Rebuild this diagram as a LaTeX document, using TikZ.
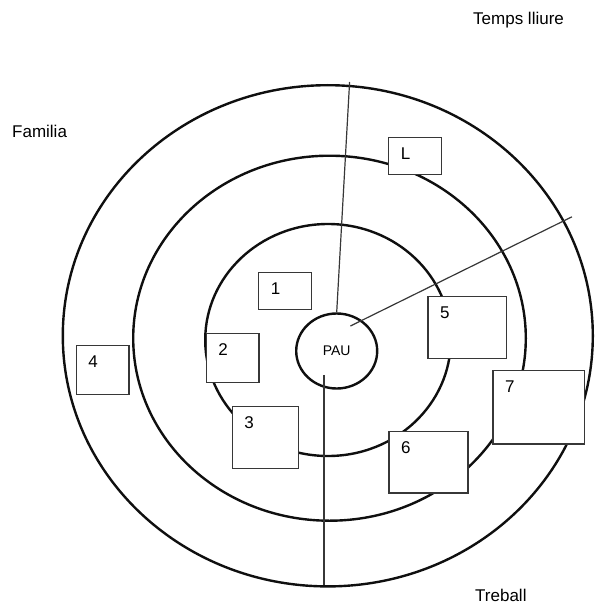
\documentclass[tikz,border=0pt]{standalone}
\usepackage{fontspec}
\setsansfont{Liberation Sans}
\usetikzlibrary{positioning}
\usetikzlibrary{shapes.geometric}
\definecolor{figNegre}{RGB}{15,15,15}
\definecolor{figVora}{RGB}{55,55,55}
\tikzset{
  anell/.style={draw=figNegre, line width=2.4pt},
  radi/.style={draw=figVora, line width=1.2pt},
  pau/.style={
    ellipse, draw=figNegre, line width=2.4pt, minimum width=81pt,
    minimum height=75pt, inner sep=0pt, font=\sffamily\fontsize{14}{16}\selectfont
  },
  caixa/.style={
    rectangle, draw=figVora, line width=1.3pt, fill=white,
    anchor=north west, inner sep=0pt
  },
  numero/.style={
    anchor=center, xshift=17.5pt, yshift=-17pt, inner sep=0pt,
    font=\sffamily\fontsize{17}{20}\selectfont
  },
  etiqueta/.style={anchor=base west, inner sep=0pt, font=\sffamily\fontsize{17}{20}\selectfont}
}

\begin{document}
\begin{tikzpicture}[x=1pt, y=-1pt]
  \useasboundingbox (0,0) rectangle (594,607);
  % anells
  \draw[anell] (327.8,335.8) ellipse [x radius=265pt, y radius=250.6pt];
  \draw[anell] (329.5,338.2) ellipse [x radius=196.3pt, y radius=182.5pt];
  \draw[anell] (328,340) ellipse [x radius=122.8pt, y radius=116pt];
  \node[pau] (pau) at (336.7,351) {PAU};
  % radis
  \coordinate (dalt) at (349.6,82);
  \coordinate (pau dreta) at (350.4,326);
  \coordinate (dreta) at (572,216.8);
  \coordinate (pau baix) at (324,374.8);
  \coordinate (baix) at (324,584.6);
  \draw[radi] (dalt) -- (pau.north);
  \draw[radi] (pau dreta) -- (dreta);
  \draw[radi] (pau baix) -- (baix);
  % caixes
  \node[caixa, minimum width=53pt, minimum height=37pt, label={[numero]north west:L}] (cL) at (388,137) {};
  \node[caixa, minimum width=53pt, minimum height=37pt, label={[numero]north west:1}] (c1) at (258,272) {};
  \node[caixa, minimum width=52.6pt, minimum height=48.7pt, label={[numero]north west:2}] (c2) at (205.7,333) {};
  \node[caixa, minimum width=66pt, minimum height=61.7pt, label={[numero]north west:3}] (c3) at (231.7,406) {};
  \node[caixa, minimum width=52.6pt, minimum height=49pt, label={[numero]north west:4}] (c4) at (75.7,345) {};
  \node[caixa, minimum width=78.7pt, minimum height=61.7pt, label={[numero]north west:5}] (c5) at (427.3,296) {};
  \node[caixa, minimum width=79pt, minimum height=61.3pt, label={[numero]north west:6}] (c6) at (388.3,431) {};
  \node[caixa, minimum width=91.7pt, minimum height=73.3pt, label={[numero]north west:7}] (c7) at (492.3,370) {};
  % textos
  \node[etiqueta] (familia) at (12,137.7) {Familia};
  \node[etiqueta] (lleure) at (473,25) {Temps lliure};
  \node[etiqueta] (treball) at (475,601) {Treball};
\end{tikzpicture}
\end{document}
